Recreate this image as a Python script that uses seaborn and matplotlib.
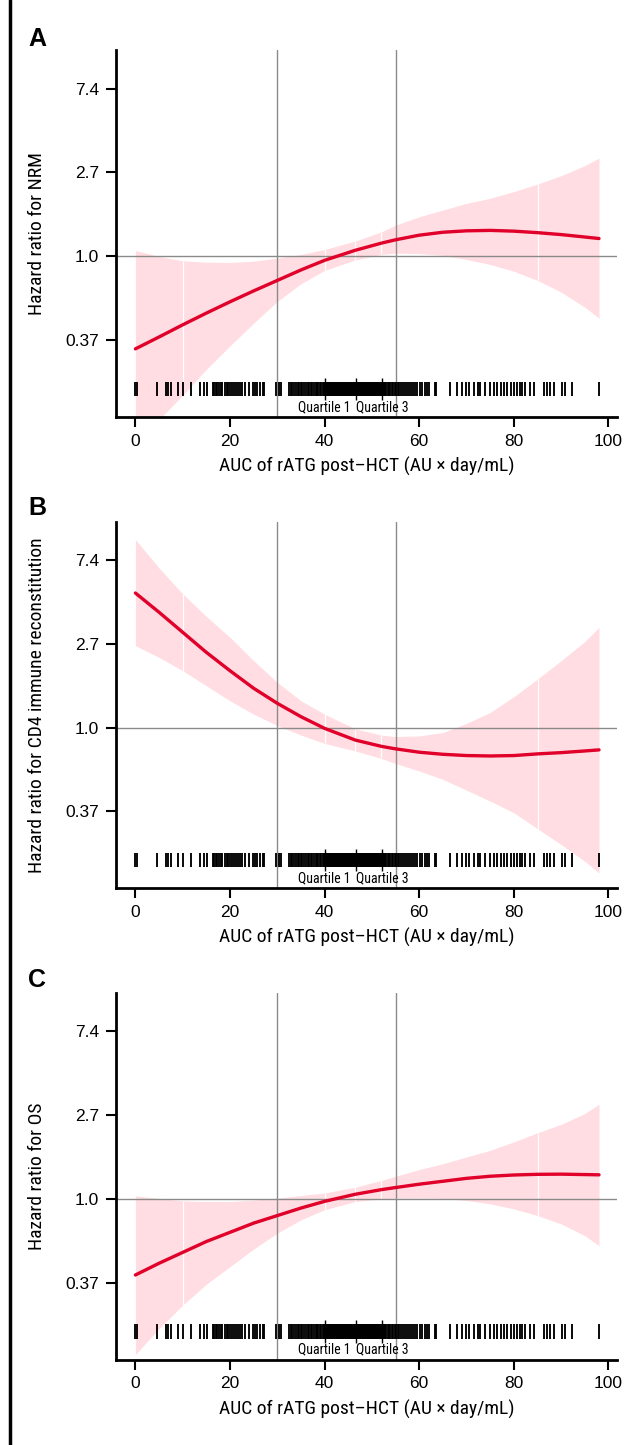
import matplotlib
matplotlib.use('Agg')
import matplotlib.pyplot as plt
import seaborn as sns
from matplotlib.lines import Line2D
from matplotlib import font_manager

# x grid where the spline curves were read (AUC values)
auc = [0, 5, 10, 15, 20, 25, 30, 35, 40, 46.5, 52, 55, 60, 65, 70, 75, 80, 85, 90, 95, 98]

# log hazard ratio (estimate / upper / lower)
nrm_est = [-1.107, -0.965, -0.82, -0.68, -0.545, -0.415, -0.29, -0.165, -0.05, 0.07, 0.155, 0.195, 0.25, 0.285, 0.302, 0.307, 0.298, 0.28, 0.257, 0.228, 0.21]
nrm_hi = [0.068, -0.005, -0.056, -0.072, -0.076, -0.06, -0.024, 0.02, 0.08, 0.18, 0.29, 0.37, 0.47, 0.55, 0.63, 0.69, 0.77, 0.86, 0.96, 1.08, 1.17]
nrm_lo = [-2.25, -1.95, -1.66, -1.35, -1.07, -0.80, -0.54, -0.33, -0.17, -0.044, 0.02, 0.036, 0.03, 0.01, -0.04, -0.10, -0.18, -0.29, -0.43, -0.61, -0.74]

cd4_est = [1.61, 1.38, 1.14, 0.90, 0.68, 0.47, 0.29, 0.13, -0.01, -0.15, -0.225, -0.255, -0.295, -0.32, -0.335, -0.34, -0.335, -0.315, -0.30, -0.28, -0.267]
cd4_hi = [2.25, 1.91, 1.60, 1.33, 1.08, 0.80, 0.54, 0.32, 0.16, -0.016, -0.09, -0.108, -0.10, -0.06, 0.05, 0.18, 0.37, 0.58, 0.80, 1.03, 1.20]
cd4_lo = [0.98, 0.84, 0.68, 0.50, 0.32, 0.16, 0.024, -0.09, -0.19, -0.28, -0.37, -0.43, -0.52, -0.62, -0.75, -0.88, -1.02, -1.21, -1.40, -1.60, -1.74]

os_est = [-0.91, -0.77, -0.64, -0.51, -0.40, -0.29, -0.20, -0.11, -0.03, 0.055, 0.11, 0.135, 0.175, 0.21, 0.245, 0.27, 0.285, 0.293, 0.295, 0.29, 0.287]
os_hi = [0.036, 0.005, -0.024, -0.032, -0.032, -0.015, 0.008, 0.04, 0.07, 0.14, 0.22, 0.27, 0.35, 0.42, 0.50, 0.58, 0.68, 0.79, 0.89, 1.02, 1.13]
os_lo = [-1.86, -1.55, -1.27, -1.02, -0.81, -0.60, -0.41, -0.25, -0.13, -0.032, 0.0, 0.008, 0.01, 0.005, -0.02, -0.06, -0.12, -0.20, -0.30, -0.44, -0.56]

# individual AUC values shown as the rug
rug_auc = [0, 0.3, 4.5, 6.5, 6.8, 7.5, 9.1, 10.0, 11.8, 13.7, 14.6, 15.1,
           16.3, 16.6, 17.0, 17.3, 17.7, 18.0, 18.4, 18.9, 19.3, 19.6, 20.0, 20.5, 20.8, 21.3, 21.7, 22.2, 22.6,
           23.1, 24.1, 24.8, 25.3, 25.8, 26.3, 26.9, 27.2, 29.7, 30.3, 30.7,
           32.5, 32.8, 33.2, 33.6, 33.9, 34.3, 34.6, 35.0, 35.3, 35.7, 36.0, 36.4, 36.7, 37.1, 37.4, 37.8,
           38.1, 38.4, 38.7, 39.0, 39.3, 39.6, 39.9,
           40.1, 40.3, 40.5, 40.7, 40.9, 41.1, 41.3, 41.5, 41.7, 41.9, 42.1, 42.3, 42.5, 42.7, 42.9,
           43.1, 43.3, 43.5, 43.7, 43.9, 44.1, 44.3, 44.5, 44.7, 44.9, 45.1, 45.3, 45.5, 45.7, 45.9,
           46.1, 46.3, 46.5, 46.7, 46.9, 47.1, 47.3, 47.5, 47.7, 47.9, 48.1, 48.3, 48.5, 48.7, 48.9,
           49.1, 49.3, 49.5, 49.7, 49.9, 50.1, 50.3, 50.5, 50.7, 50.9, 51.1, 51.3, 51.5, 51.7, 51.9,
           52.1, 52.3, 52.5, 52.7, 53.0,
           53.3, 53.6, 53.9, 54.2, 54.5, 54.8, 55.1, 55.5, 55.8, 56.2, 56.6, 57.0, 57.4, 57.8, 58.2,
           58.7, 59.1, 59.6, 60.1, 60.6, 61.2, 61.6, 62.0, 63.3, 63.5,
           66.6, 67.9, 69.1, 69.8, 70.5, 71.5, 72.4, 72.9, 74.0, 74.9, 75.7, 76.5, 77.2, 77.9, 78.6,
           79.4, 80.1, 80.7, 81.2, 81.7, 82.4, 83.5, 84.2, 86.3, 87.0, 87.7, 88.4, 90.2, 90.9, 92.3, 98.0]

quartiles = [40.0, 46.6, 52.2]
knots = [10, 40, 46.5, 52, 85]
ref_lines = [30, 55]

y_ticks = [-1, 0, 1, 2]
y_ticklabels = ['0.37', '1.0', '2.7', '7.4']

panels = [
    ('A', 'Hazard ratio for NRM', nrm_est, nrm_hi, nrm_lo),
    ('B', 'Hazard ratio for CD4 immune reconstitution', cd4_est, cd4_hi, cd4_lo),
    ('C', 'Hazard ratio for OS', os_est, os_hi, os_lo),
]

sns.set_style('ticks')
plt.rcParams['font.family'] = ['Liberation Sans', 'DejaVu Sans']
for key in ['text.color', 'axes.labelcolor', 'xtick.color', 'ytick.color']:
    plt.rcParams[key] = 'black'

# condensed face for the axis titles, if one is installed
names = {f.name for f in font_manager.fontManager.ttflist}
narrow_kw = dict(family=['DejaVu Sans'], stretch='condensed')
for cand in ['Liberation Sans Narrow', 'Arial Narrow', 'Roboto Condensed', 'Open Sans Condensed']:
    if cand in names:
        narrow_kw = dict(family=[cand])
        break

RED = '#e0002a'
PINK = '#ffdde2'
GREY = '#8a8a8a'

fig = plt.figure(figsize=(6.43, 14.45), dpi=100)
W, H = 643, 1445
# (top, bottom) pixel rows of each axes
rows = [(50, 417), (522, 888), (993, 1359.5)]
label_y = [39, 508, 980]

for (tag, ylabel, est, hi, lo), (top, bot), ly in zip(panels, rows, label_y):
    ax = fig.add_axes([116 / W, 1 - bot / H, 501 / W, (bot - top) / H])

    ax.fill_between(auc, lo, hi, color=PINK, lw=0, zorder=1)
    for k in knots:
        if k in auc:
            i = auc.index(k)
            ax.vlines(k, lo[i], hi[i], color='white', lw=0.9, zorder=1.5)

    ax.axhline(0, color=GREY, lw=1.0, zorder=2)
    for r in ref_lines:
        ax.axvline(r, color=GREY, lw=1.0, zorder=2)

    sns.lineplot(x=auc, y=est, ax=ax, color=RED, lw=2.4, zorder=4)

    ax.vlines(rug_auc, -1.67, -1.50, color='black', lw=1.35, zorder=3)
    ax.vlines(quartiles, -1.72, -1.45, color='black', lw=1.0, zorder=3)
    ax.text(quartiles[0], -1.80, 'Quartile 1', ha='center', va='center', fontsize=10, **narrow_kw)
    ax.text(quartiles[2], -1.80, 'Quartile 3', ha='center', va='center', fontsize=10, **narrow_kw)

    ax.set_xlim(-4.1, 101.8)
    ax.set_ylim(-1.92, 2.46)
    ax.set_xticks([0, 20, 40, 60, 80, 100])
    ax.set_yticks(y_ticks)
    ax.set_yticklabels(y_ticklabels)
    ax.tick_params(axis='both', direction='out', length=7, width=1.5, labelsize=12.5, pad=5)
    for s in ['top', 'right']:
        ax.spines[s].set_visible(False)
    for s in ['left', 'bottom']:
        ax.spines[s].set_linewidth(2)
        ax.spines[s].set_color('black')

    ax.set_xlabel('AUC of rATG post\u2013HCT (AU \u00d7 day/mL)', fontsize=14, labelpad=6, **narrow_kw)
    ax.set_ylabel(ylabel, fontsize=14, **narrow_kw)
    ax.yaxis.set_label_coords(-0.14, 0.5)

    fig.text(37 / W, 1 - ly / H, tag, fontsize=18, fontweight='heavy', ha='center', va='center')

# left frame line
fig.add_artist(Line2D([10 / W, 10 / W], [0, 1], color='black', lw=2.5, transform=fig.transFigure))

fig.savefig('out.png', dpi=100)
